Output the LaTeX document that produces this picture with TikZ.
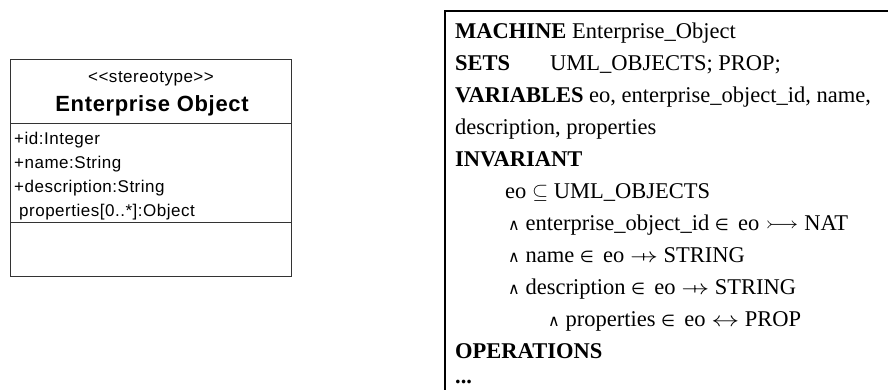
\documentclass[tikz,border=0pt]{standalone}
\usepackage{fontspec}
\usepackage{amssymb}
\setmainfont{Liberation Serif}
\newfontfamily\umlfont[LetterSpace=3]{Liberation Sans}
\newfontfamily\symfont{DejaVu Sans}
\newcommand{\bsym}[1]{{\symfont\fontsize{16}{20}\selectfont #1}}
\newcommand{\barrow}[1]{\scalebox{1.35}[1]{#1}}
\newcommand{\pfunsym}{\ooalign{$\rightarrow$\cr\hidewidth$\mapstochar\mkern3mu$\hidewidth\cr}}

\begin{document}
\begin{tikzpicture}[x=1pt,y=-1pt]
	\def \umlleft{14}
	\def \machleft{455}
	\def \invindent{505}
	\tikzstyle{uml-box}=[draw=black!80,line width=1pt]
	\tikzstyle{uml-text}=[inner sep=0pt,font=\umlfont\fontsize{17}{20}\selectfont]
	\tikzstyle{uml-attr}=[uml-text,anchor=base west]
	\tikzstyle{mach-box}=[draw=black,line width=2.3pt]
	\tikzstyle{mach-line}=[anchor=base west,inner sep=0pt,font=\fontsize{22.5}{27}\selectfont]
	\clip (0,0) rectangle (888,389);

	% class box
	\node[uml-box,anchor=north west,minimum width=281pt,minimum height=217pt,inner sep=0pt,outer sep=0pt] (eobox) at (10,59) {};
	\coordinate (namediv) at (0,123);
	\coordinate (attrdiv) at (0,222.5);
	\draw[uml-box] (eobox.west |- namediv) -- (eobox.east |- namediv);
	\draw[uml-box] (eobox.west |- attrdiv) -- (eobox.east |- attrdiv);

	% stereotype and class name
	\node[uml-text,anchor=base] (stereo) at (151,82) {<<stereotype>>};
	\node[uml-text,anchor=base,font=\umlfont\bfseries\fontsize{22}{26}\selectfont] (eoname) at (152,111) {Enterprise Object};

	% attributes
	\node[uml-attr] (aid)   at (\umlleft,144) {+id:Integer};
	\node[uml-attr] (aname) at (\umlleft,168) {+name:String};
	\node[uml-attr] (adesc) at (\umlleft,192) {+description:String};
	\node[uml-attr] (aprop) at (19,216)       {properties[0..*]:Object};

	% B machine
	\node[mach-box,anchor=north west,minimum width=460pt,minimum height=400pt,inner sep=0pt,outer sep=0pt] (machbox) at (445,11) {};

	\node[mach-line] (lmach)  at (\machleft,38)  {\textbf{MACHINE} Enterprise\_Object};
	\node[mach-line] (lsets)  at (\machleft,70)  {\textbf{SETS}\hspace{40pt}UML\_OBJECTS; PROP;};
	\node[mach-line] (lvars)  at (\machleft,102) {\textbf{VARIABLES} eo, enterprise\_object\_id, name,};
	\node[mach-line] (lvars2) at (\machleft,134) {description, properties};
	\node[mach-line] (linv)   at (\machleft,166) {\textbf{INVARIANT}};
	\node[mach-line] (inv1) at (\invindent,198) {eo $\subseteq$ UML\_OBJECTS};
	\node[mach-line] (inv2) at (508,230) {\bsym{∧} enterprise\_object\_id \bsym{∈}\, eo \barrow{$\rightarrowtail$} NAT};
	\node[mach-line] (inv3) at (508,262) {\bsym{∧} name \bsym{∈}\, eo \barrow{\pfunsym} STRING};
	\node[mach-line] (inv4) at (508,294) {\bsym{∧} description \bsym{∈}\, eo \barrow{\pfunsym} STRING};
	\node[mach-line] (inv5) at (548,326) {\bsym{∧} properties \bsym{∈}\, eo \barrow{$\leftrightarrow$} PROP};
	\node[mach-line] (lops) at (\machleft,358)  {\textbf{OPERATIONS}};
	\node[mach-line] (ldots) at (\machleft,383) {\textbf{...}};
\end{tikzpicture}
\end{document}
